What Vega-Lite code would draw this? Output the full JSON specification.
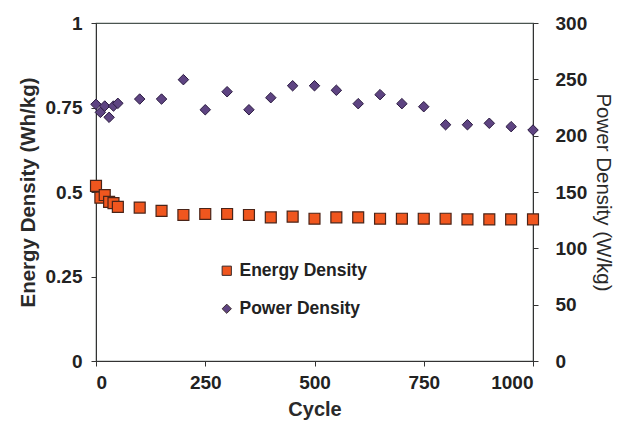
{
  "$schema": "https://vega.github.io/schema/vega-lite/v6.json",
  "width": 437,
  "height": 338,
  "autosize": {"type": "none"},
  "padding": {"left": 96, "top": 23, "right": 85, "bottom": 62},
  "background": "white",
  "config": {
    "view": {"stroke": "#4a5550", "strokeWidth": 1.2},
    "font": "Liberation Sans",
    "axis": {
      "grid": false,
      "domainColor": "#333333",
      "tickColor": "#333333",
      "labelFont": "Liberation Sans",
      "labelFontWeight": "bold",
      "labelFontSize": 19,
      "labelColor": "#222222",
      "titleFont": "Liberation Sans",
      "titleFontWeight": "bold",
      "titleFontSize": 19,
      "titleColor": "#2a2a2a",
      "tickSize": 5
    }
  },
  "data": {
    "values": [
      {"cycle": 0, "energy": 0.518, "power": 227.8},
      {"cycle": 10, "energy": 0.483, "power": 220.7},
      {"cycle": 20, "energy": 0.491, "power": 226.3},
      {"cycle": 30, "energy": 0.471, "power": 216.3},
      {"cycle": 40, "energy": 0.467, "power": 226.3},
      {"cycle": 50, "energy": 0.456, "power": 228.7},
      {"cycle": 100, "energy": 0.454, "power": 232.5},
      {"cycle": 150, "energy": 0.444, "power": 232.5},
      {"cycle": 200, "energy": 0.432, "power": 249.7},
      {"cycle": 250, "energy": 0.435, "power": 223.0},
      {"cycle": 300, "energy": 0.435, "power": 239.0},
      {"cycle": 350, "energy": 0.432, "power": 223.0},
      {"cycle": 400, "energy": 0.425, "power": 233.7},
      {"cycle": 450, "energy": 0.427, "power": 244.3},
      {"cycle": 500, "energy": 0.421, "power": 244.3},
      {"cycle": 550, "energy": 0.425, "power": 240.3},
      {"cycle": 600, "energy": 0.425, "power": 228.4},
      {"cycle": 650, "energy": 0.421, "power": 236.4},
      {"cycle": 700, "energy": 0.421, "power": 228.4},
      {"cycle": 750, "energy": 0.421, "power": 225.7},
      {"cycle": 800, "energy": 0.421, "power": 209.7},
      {"cycle": 850, "energy": 0.419, "power": 209.7},
      {"cycle": 900, "energy": 0.419, "power": 211.0},
      {"cycle": 950, "energy": 0.419, "power": 208.0},
      {"cycle": 1000, "energy": 0.419, "power": 205.0}
    ]
  },
  "encoding": {
    "x": {
      "field": "cycle",
      "type": "quantitative",
      "title": "Cycle",
      "scale": {"domain": [0, 1000], "nice": false},
      "axis": {"values": [0, 250, 500, 750, 1000], "format": "d", "labelPadding": 7, "titlePadding": 7, "titleFontSize": 20}
    }
  },
  "layer": [
    {
      "mark": {"type": "point", "filled": true, "size": 120, "stroke": "#4a2418", "strokeWidth": 1.2, "opacity": 1},
      "encoding": {
        "y": {
          "field": "energy",
          "type": "quantitative",
          "title": "Energy Density (Wh/kg)",
          "scale": {"domain": [0, 1], "nice": false},
          "axis": {"orient": "left", "values": [0, 0.25, 0.5, 0.75, 1], "format": ".2~f", "labelPadding": 9, "titlePadding": 7, "titleFontSize": 20.5}
        },
        "color": {
          "datum": "Energy Density",
          "scale": {"domain": ["Energy Density", "Power Density"], "range": ["#F0561E", "#5E4482"]},
          "legend": {
            "orient": "none",
            "legendX": 122,
            "legendY": 239,
            "title": null,
            "labelFont": "Liberation Sans",
            "labelFontSize": 17.5,
            "labelColor": "#222222",
            "labelFontWeight": "bold",
            "symbolSize": 85,
            "symbolStrokeColor": "#3a2a2a",
            "symbolStrokeWidth": 1,
            "rowPadding": 19,
            "labelOffset": 4
          }
        },
        "shape": {
          "datum": "Energy Density",
          "scale": {"domain": ["Energy Density", "Power Density"], "range": ["square", "diamond"]}
        }
      }
    },
    {
      "mark": {"type": "point", "filled": true, "size": 110, "stroke": "#2a1a40", "strokeWidth": 1, "opacity": 1},
      "encoding": {
        "y": {
          "field": "power",
          "type": "quantitative",
          "title": "Power Density (W/kg)",
          "scale": {"domain": [0, 300], "nice": false},
          "axis": {"orient": "right", "values": [0, 50, 100, 150, 200, 250, 300], "labelPadding": 17, "titlePadding": 6, "titleAngle": 90, "titleFontWeight": "normal", "titleFontSize": 20.5}
        },
        "color": {"datum": "Power Density"},
        "shape": {"datum": "Power Density"}
      }
    }
  ],
  "resolve": {"scale": {"y": "independent"}}
}
